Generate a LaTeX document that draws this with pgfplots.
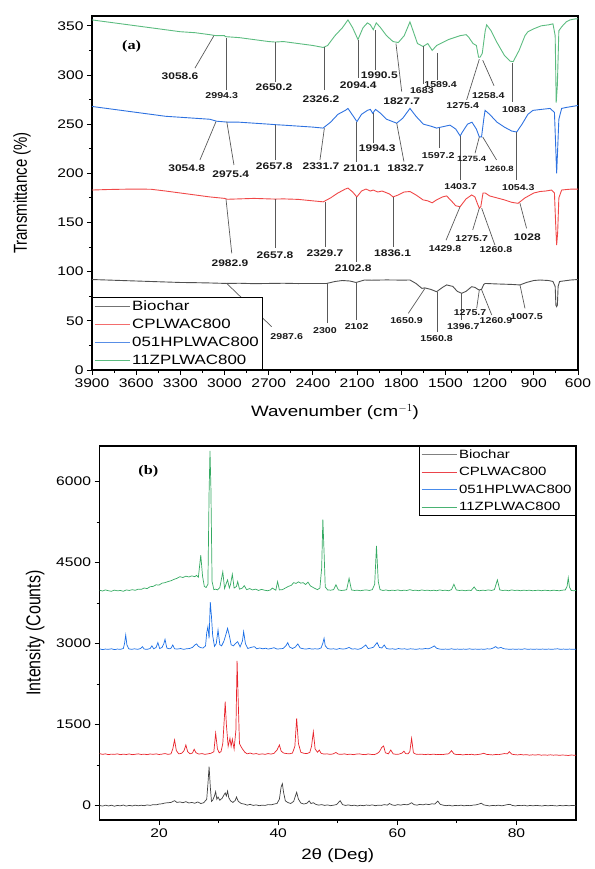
\documentclass[border=0pt]{standalone}
\usepackage{pgfplots}
\pgfplotsset{compat=1.18}
\usepackage{pgfplotstable}
\usepackage{fontspec}
\setmainfont{Liberation Sans}[FakeStretch=1.25]
\newfontfamily\plainsans{Liberation Sans}
\newfontfamily\tnr{Liberation Serif}[FakeStretch=1.25]

\definecolor{fgray}{HTML}{505050}
\definecolor{fred}{HTML}{F04848}
\definecolor{fblue}{HTML}{2E72E0}
\definecolor{fgreen}{HTML}{5CBC80}
\definecolor{xgray}{HTML}{404040}
\definecolor{xred}{HTML}{E8232B}
\definecolor{xblue}{HTML}{1A6EE6}
\definecolor{xgreen}{HTML}{35AA62}

% ---- FTIR (a) ----
\pgfplotstableread{
x y
3900 92
3800 91.5
3700 91
3600 90.5
3500 90
3400 89.5
3300 89
3200 88.8
3100 88.5
2985 88
2900 88.2
2800 87.8
2700 88
2600 88.2
2500 87.9
2400 88
2307 88
2250 90
2200 91
2150 90.5
2107 89
2050 91.5
2000 91.3
1900 91.6
1800 91.4
1741 91.5
1700 88
1660 83
1640 83.5
1600 82
1560 79.6
1520 84
1492 86.5
1450 85
1420 80
1390 78
1360 80
1322 84.7
1300 84
1280 82
1270 81.4
1255 82
1240 87
1230 88
1150 87.5
1050 87
994 86.5
950 89
900 91
858 91.5
800 91
770 90
755 85
750 66
745 64.4
740 66
735 85
725 90
700 90.5
650 91.5
600 92
}\ftirbio
\pgfplotstableread{
x y
3900 183
3800 183.5
3700 183.8
3600 184
3500 183.8
3400 182
3300 180
3200 178
3100 176
3000 174.5
2982 173.6
2900 174
2800 174.5
2700 174
2657 173.8
2600 174
2500 173.5
2400 172
2330 171
2280 175
2230 180
2180 184
2162 185
2130 181
2102 176
2070 182
2040 184
2010 182
1990 183
1960 181
1930 182
1880 179
1856 176
1820 178
1780 181
1741 181.5
1700 178
1652 173
1620 172
1590 170
1560 173
1520 176
1492 177
1460 172
1430 167
1401 166
1360 174
1322 178
1300 176
1280 168
1270 164.6
1260 166
1245 180
1230 180
1200 177
1150 175
1100 173
1050 170.5
1007 169.5
960 175
900 180
858 181.5
820 182
779 183
760 180
752 150
745 127
738 140
730 175
711 183
680 183.5
640 184
600 184
}\ftircp
\pgfplotstableread{
x y
3900 268
3800 266
3700 264
3600 262
3500 260
3400 258
3300 257
3200 256
3100 255
3054 253
2975 252
2900 252
2800 251
2700 250
2657 249.5
2600 249
2500 248
2400 247
2331 246
2280 252
2230 260
2180 264
2162 266
2130 259
2101 252.6
2070 260
2030 264
2010 265
1994 261
1975 265
1940 261
1900 255
1831 251
1790 256
1741 266
1700 258
1650 250
1600 248
1560 246
1500 248
1469 249
1430 245
1400 238
1385 242
1350 250
1320 252
1290 245
1270 237
1255 237
1240 255
1231 264
1200 260
1150 252
1100 247
1050 243
1016 242
980 250
940 260
906 264
850 265
790 266
760 262
752 230
745 200
738 225
730 255
711 266
680 267
640 268
600 269
}\ftirhp
\pgfplotstableread{
x y
3900 356
3800 354
3700 352
3600 350
3500 348
3400 346
3300 344
3200 343
3100 341
3058 340
3000 340
2994 339
2900 338
2800 336
2700 334
2657 333.5
2600 334
2500 332
2400 330
2330 328
2300 330
2250 340
2200 348
2162 356
2130 348
2094 336
2060 348
2030 353
2010 351
1990 346
1970 353
1940 348
1900 340
1856 334
1820 333
1780 340
1741 354
1720 345
1690 332
1652 329
1620 332
1590 325
1560 330
1520 333
1480 336
1440 338
1400 340
1360 341
1340 338
1313 332
1290 330
1275 318
1265 318
1250 322
1230 345
1220 351
1190 345
1150 333
1100 320
1060 314
1040 313.6
1000 325
960 340
940 344
900 347
850 350
800 351
770 352
755 340
748 272
740 290
730 345
711 349
680 354
655 356
620 357
600 357
}\ftirzp

% ---- XRD (b) ----
\pgfplotstableread{
x y
10 5
10.5 -8
11 10
11.5 -5
12 8
12.5 -10
13 5
13.5 -3
14 12
14.5 -8
15 6
15.5 -5
16 10
16.5 -2
17 8
17.5 0
18 15
18.5 5
19 20
19.5 15
20 30
20.5 35
21 50
21.5 55
22 60
22.6 93
23 60
23.5 70
24 55
24.5 75
25 50
25.5 60
26 45
26.5 70
27 40
27.5 55
28.0 120
28.2 400
28.4 722
28.6 350
28.8 80
29.0 100
29.3 180
29.5 259
29.7 120
29.9 160
30.2 100
30.6 140
30.9 200
31.1 235
31.3 180
31.5 272
31.7 150
32.0 90
32.4 60
32.8 100
33.0 161
33.3 80
33.8 40
34.3 30
34.8 10
35.3 25
35.8 5
36.3 15
36.8 0
37.3 10
37.8 5
38.3 20
38.8 15
39.3 30
39.8 40
40.2 120
40.5 350
40.7 407
40.9 250
41.2 90
41.6 60
42.1 40
42.6 80
43.1 248
43.4 120
43.8 50
44.3 30
44.8 45
45.2 90
45.5 40
45.9 55
46.3 25
46.8 10
47.3 20
47.8 5
48.3 15
48.8 0
49.3 10
49.8 20
50.4 93
50.8 20
51.3 5
51.8 15
52.3 0
52.8 10
53.3 -5
53.8 8
54.3 0
54.8 12
55.3 5
55.8 15
56.3 0
56.8 10
57.3 5
57.8 20
58.3 10
58.7 40
59.1 15
59.6 5
60.1 20
60.6 10
61.1 25
61.6 15
62.0 30
62.4 55
62.8 20
63.3 10
63.8 25
64.3 15
64.8 30
65.3 20
65.8 35
66.3 30
66.8 85
67.2 25
67.7 10
68.2 0
68.7 8
69.2 -5
69.7 5
70.2 0
70.7 10
71.2 -3
71.7 6
72.2 0
72.7 10
73.2 15
73.7 30
74.1 45
74.5 15
75.0 5
75.5 -5
76.0 5
76.5 0
77.0 10
77.5 -3
78.0 8
78.5 20
78.9 25
79.3 5
79.8 -5
80.3 5
80.8 0
81.3 8
81.8 -5
82.3 5
82.8 -3
83.3 6
83.8 0
84.3 -5
84.8 5
85.3 -3
85.8 6
86.3 0
86.8 -5
87.3 5
87.8 -3
88.3 5
88.8 -2
89.3 4
90 0
}\xrdbio
\pgfplotstableread{
x y
10 965
10.5 950
11 960
11.5 945
12 955
12.5 950
13 960
13.5 945
14 955
14.5 948
15 958
15.5 945
16 952
16.5 960
17 948
17.5 955
18 945
18.5 958
19 950
19.5 960
20 948
20.5 955
21 965
21.5 950
22.0 960
22.3 1050
22.6 1217
22.9 1020
23.3 960
23.8 970
24.2 1020
24.5 1124
24.8 1000
25.2 960
25.6 975
25.9 1045
26.2 980
26.7 955
27.2 965
27.7 950
28.2 960
28.7 970
29.2 1000
29.5 1341
29.8 1050
30.1 980
30.4 1000
30.7 1150
31.0 1700
31.1 1926
31.3 1500
31.6 1100
31.9 1248
32.1 1100
32.3 1230
32.6 1050
32.9 1400
33.1 2680
33.3 1900
33.5 1150
33.7 1105
34.0 1050
34.4 990
34.8 960
35.3 975
35.8 955
36.3 965
36.8 950
37.3 960
37.8 950
38.3 965
38.8 955
39.3 970
39.8 1030
40.2 1124
40.5 1010
40.9 975
41.4 965
41.9 960
42.4 975
42.8 1100
43.1 1618
43.4 1150
43.8 990
44.3 970
44.8 965
45.3 985
45.6 1100
45.9 1370
46.2 1050
46.6 990
46.9 1030
47.2 970
47.7 955
48.2 960
48.7 950
49.2 958
49.7 985
50.1 955
50.6 950
51.1 960
51.6 948
52.1 955
52.6 945
53.1 955
53.6 960
54.1 950
54.6 945
55.1 958
55.6 950
56.1 945
56.6 965
57.0 1000
57.4 1080
57.7 1105
58.0 980
58.5 960
58.9 1031
59.3 960
59.8 950
60.3 955
60.8 975
61.1 1010
61.4 965
61.8 960
62.1 1000
62.4 1248
62.7 980
63.1 955
63.6 950
64.1 955
64.6 945
65.1 952
65.6 948
66.1 955
66.6 945
67.1 950
67.6 945
68.1 955
68.6 960
69.1 1018
69.5 960
70.0 945
70.5 950
71.0 940
71.5 948
72.0 945
72.5 952
73.0 940
73.5 948
74.0 955
74.5 970
75.0 950
75.5 945
76.0 940
76.5 948
77.0 945
77.5 955
78.0 965
78.5 960
78.8 1000
79.2 955
79.7 945
80.2 940
80.7 948
81.2 940
81.7 945
82.2 935
82.7 942
83.2 938
83.7 945
84.2 935
84.7 940
85.2 935
85.7 942
86.2 935
86.7 940
87.2 932
87.7 938
88.2 935
88.7 930
89.2 938
90 932
}\xrdcp
\pgfplotstableread{
x y
10 2905
10.5 2890
11 2900
11.5 2895
12 2905
12.5 2890
13 2900
13.5 2895
14.0 2910
14.2 3000
14.4 3160
14.6 2980
14.9 2905
15.4 2895
15.9 2905
16.4 2895
16.9 2910
17.2 2945
17.5 2900
18.0 2895
18.5 2910
18.8 2960
19.1 2905
19.5 2930
19.8 3020
20.1 2910
20.5 2930
20.8 3000
21.0 3080
21.3 2920
21.7 2905
22.0 2915
22.3 2975
22.6 2905
23.1 2900
23.6 2910
24.1 2895
24.6 2905
25.1 2910
25.6 2930
26.0 2975
26.3 2995
26.6 2950
27.0 2925
27.4 2920
27.8 2960
28.0 3200
28.2 3315
28.4 3100
28.6 3770
28.8 3500
29.0 3150
29.3 2950
29.6 3000
29.9 3254
30.2 2980
30.5 2960
30.9 3050
31.3 3200
31.5 3285
31.8 3150
32.1 2980
32.5 2960
32.8 3000
33.2 3037
33.6 2940
34.0 3050
34.2 3223
34.5 3000
34.9 2910
35.4 2930
36.0 2945
36.4 2905
36.9 2920
37.4 2905
37.9 2915
38.3 2900
38.8 2910
39.3 2925
39.8 2900
40.3 2905
40.8 2910
41.3 2960
41.6 3019
41.9 2940
42.4 2910
42.9 2940
43.3 2995
43.7 2920
44.2 2905
44.7 2900
45.2 2910
45.7 2900
46.2 2905
46.7 2900
47.2 2920
47.5 3010
47.7 3100
47.9 2960
48.3 2910
48.8 2900
49.3 2905
49.8 2895
50.3 2910
50.8 2900
51.3 2905
51.9 2930
52.4 2900
52.9 2905
53.4 2895
53.9 2910
54.3 2940
54.7 2976
55.1 2910
55.6 2920
56.0 2935
56.6 3019
57.0 2930
57.4 2920
57.8 2975
58.2 2910
58.7 2900
59.2 2905
59.7 2895
60.2 2910
60.7 2900
61.2 2905
61.7 2895
62.2 2905
62.7 2900
63.2 2895
63.7 2905
64.2 2900
64.7 2910
65.2 2905
65.7 2925
66.2 2958
66.6 2915
67.1 2900
67.6 2895
68.1 2900
68.6 2895
69.1 2905
69.6 2895
70.1 2900
70.6 2895
71.1 2900
71.6 2895
72.1 2905
72.6 2895
73.1 2900
73.6 2895
74.1 2900
74.6 2895
75.1 2905
75.6 2900
76.1 2920
76.5 2945
76.9 2915
77.4 2930
77.9 2905
78.4 2900
78.9 2895
79.4 2900
79.9 2895
80.4 2900
80.9 2895
81.4 2905
81.9 2895
82.4 2900
82.9 2895
83.4 2900
83.9 2895
84.4 2900
84.9 2895
85.4 2900
85.9 2895
86.4 2900
86.9 2905
87.4 2895
87.9 2900
88.4 2895
88.9 2900
89.4 2895
90 2895
}\xrdhp
\pgfplotstableread{
x y
10 3990
10.5 3975
11 3995
11.5 3980
12 3970
12.5 3992
13 3978
13.5 3985
14 3970
14.5 3995
15 3985
15.5 4000
16 3988
16.5 4010
17 4005
17.5 4030
18 4020
18.5 4055
19 4060
19.5 4090
20 4085
20.5 4120
21 4130
21.5 4150
22 4165
22.5 4190
23 4210
23.5 4240
24 4225
24.5 4250
25 4235
25.5 4255
26 4240
26.3 4265
26.6 4230
27.0 4640
27.3 4250
27.6 4060
27.9 4040
28.2 4100
28.4 5800
28.55 6570
28.7 5900
28.9 4150
29.2 4000
29.5 4010
29.8 3995
30.2 4040
30.7 4330
31.0 4020
31.3 4120
31.5 4180
31.8 4030
32.0 4100
32.3 4285
32.6 4030
33.0 4060
33.2 4150
33.5 4010
34.0 4030
34.3 4075
34.7 4000
35.2 4020
35.7 3995
36.2 4010
36.7 3985
37.2 4005
37.7 3990
38.2 3980
38.7 3995
39.0 4030
39.3 4010
39.6 3990
39.9 4150
40.2 3995
40.7 4000
41.2 4030
41.7 4060
42.2 4080
42.6 4130
43.0 4115
43.4 4145
43.8 4120
44.2 4130
44.6 4095
45.0 4140
45.4 4070
45.8 4045
46.2 4020
46.6 4000
47.0 4030
47.3 4400
47.5 5300
47.7 4700
47.9 4050
48.3 3995
48.8 3990
49.3 4000
49.7 4090
50.1 3995
50.6 3985
51.1 3990
51.5 4000
51.9 4210
52.3 3995
52.8 3985
53.3 3990
53.8 3980
54.3 3990
54.8 3995
55.3 3985
55.8 4000
56.2 4100
56.5 4810
56.8 4150
57.1 4000
57.6 3985
58.1 3995
58.6 3980
59.1 3990
59.6 3985
60.1 3995
60.6 3980
61.1 3990
61.6 3985
62.1 4000
62.6 3985
63.1 3990
63.6 3980
64.1 3995
64.6 3985
65.1 3990
65.6 3980
66.1 3990
66.6 3980
67.1 3995
67.6 3985
68.1 3990
68.6 3980
69.1 4000
69.5 4100
69.9 3995
70.4 3985
70.9 3990
71.4 3980
71.9 3990
72.4 3985
72.9 4050
73.3 3990
73.8 3980
74.3 3990
74.8 3985
75.3 3995
75.8 3985
76.3 4000
76.8 4180
77.2 3995
77.7 3985
78.2 3990
78.7 3980
79.2 3995
79.7 3985
80.2 3990
80.7 3980
81.2 3990
81.7 3985
82.2 3990
82.7 3980
83.2 3985
83.7 3990
84.2 3980
84.7 3990
85.2 3985
85.7 3980
86.2 3990
86.7 3985
87.2 3980
87.7 3990
88.2 3995
88.5 4060
88.7 4220
88.9 4050
89.2 3985
89.6 3980
90 3985
}\xrdzp

\pgfplotsset{
  panel/.style={
    scale only axis, tick pos=left, tick align=outside,
    major tick length=5pt, minor tick length=3pt,
    axis line style={line width=1.1pt},
    tick style={black, line width=0.9pt},
    tick label style={font=\fontsize{12.5}{14}\selectfont},
    /pgf/number format/assume math mode=true,
    /pgf/number format/1000 sep={},
    legend cell align=left,
  },
  % legend samples with their colour written into the drawing itself
  limg/.style 2 args={legend image code/.code={\draw[draw=#1, line width=#2] (0pt,0pt) -- (35pt,0pt);}},
}
\tikzset{
  ld/.style={draw=black!65, line width=0.7pt},
  labL/.style={font=\bfseries\fontsize{9.6}{10}\selectfont, inner sep=0pt, text=black!90},
  labS/.style={font=\bfseries\fontsize{8.5}{9}\selectfont, inner sep=0pt, text=black!90},
  labXS/.style={font=\bfseries\fontsize{7.6}{8}\selectfont, inner sep=0pt, text=black!90},
}

\begin{document}
\begin{tikzpicture}
\useasboundingbox (0pt,0pt) rectangle (594pt,869pt);

\begin{axis}[panel,
  at={(335pt,676pt)}, anchor=center,
  width=486pt, height=354pt,
  x dir=reverse, xmin=600, xmax=3900, ymin=0, ymax=360,
  xtick={600,900,...,3900}, ytick={0,50,...,350},
  minor x tick num=1, minor y tick num=1,
  xlabel={Wavenumber (cm$^{-1}$)},
  xlabel style={at={(axis description cs:0.5,-0.118)}, anchor=center,
    font=\fontsize{15}{16}\selectfont},
  ylabel={\scalebox{1}[1.25]{Transmittance (\%)}},
  ylabel style={at={(axis description cs:-0.144,0.5)}, anchor=center,
    font=\plainsans\fontsize{15}{16}\selectfont},
  legend style={at={(axis description cs:0,0)}, anchor=south west, draw=black, line width=0.8pt,
    fill=white, font=\fontsize{13.5}{15}\selectfont, inner xsep=2pt, inner ysep=1.5pt,
    row sep=3pt},
]
\addplot[draw=fgray, line width=0.9pt, limg={fgray!80}{0.8pt}] table {\ftirbio};
\addlegendentry{Biochar}
\addplot[draw=fred, line width=0.9pt, limg={fred!80}{0.8pt}] table {\ftircp};
\addlegendentry{CPLWAC800}
\addplot[draw=fblue, line width=0.9pt, limg={fblue!80}{0.8pt}] table {\ftirhp};
\addlegendentry{051HPLWAC800}
\addplot[draw=fgreen, line width=0.9pt, limg={fgreen}{0.8pt}] table {\ftirzp};
\addlegendentry{11ZPLWAC800}

\node[font=\tnr\bfseries\fontsize{13}{14}\selectfont] at (3631,329.6) {(a)};

% green
\draw[ld] (3072,340) -- (3201,307); \node[labL] at (3302,299) {3058.6};
\draw[ld] (2990,338) -- (2990,285); \node[labS] at (3019,279) {2994.3};
\draw[ld] (2657,333.5) -- (2657,293); \node[labL] at (2664,287.6) {2650.2};
\draw[ld] (2322,328) -- (2322,285); \node[labL] at (2345,275) {2326.2};
\draw[ld] (2094,336) -- (2094,297); \node[labL] at (2092,290) {2094.4};
\draw[ld] (1974,346) -- (1974,305); \node[labL] at (1949,300) {1990.5};
\draw[ld] (1836,332) -- (1797,283); \node[labL] at (1797,273) {1827.7};
\draw[ld] (1650,329) -- (1650,291); \node[labS] at (1660,283.8) {1683};
\draw[ld] (1553,322) -- (1553,295); \node[labS] at (1533,290) {1589.4};
\draw[ld] (1270,316) -- (1356,274.7); \node[labS] at (1383,268.6) {1275.4};
\draw[ld] (1247,315) -- (1170,289); \node[labS] at (1209,278.7) {1258.4};
\draw[ld] (1044,312) -- (1044,273); \node[labS] at (1035,265) {1083};
% blue
\draw[ld] (3058,252.6) -- (3167,213.6); \node[labL] at (3257,205) {3054.8};
\draw[ld] (2985,252.6) -- (2936,208.5); \node[labL] at (2958,199) {2975.4};
\draw[ld] (2657,249.5) -- (2657,213.6); \node[labL] at (2662,207) {2657.8};
\draw[ld] (2322,246) -- (2352,213.6); \node[labL] at (2345,207) {2331.7};
\draw[ld] (2107,252.6) -- (2107,212); \node[labL] at (2069,205) {2101.1};
\draw[ld] (1990,261) -- (1990,230.5); \node[labL] at (1963,225.5) {1994.3};
\draw[ld] (1831,251) -- (1782,212); \node[labL] at (1770,205) {1832.7};
\draw[ld] (1544,246) -- (1544,225.5); \node[labS] at (1549,217.7) {1597.2};
\draw[ld] (1397,238) -- (1397,193); \node[labS] at (1397,186.9) {1403.7};
\draw[ld] (1270,237) -- (1299,220.4); \node[labXS] at (1322,214.6) {1275.4};
\draw[ld] (1247,237) -- (1153,213.6); \node[labXS] at (1135,205) {1260.8};
\draw[ld] (1016,242) -- (1016,193); \node[labS] at (1005,185) {1054.3};
% red
\draw[ld] (2990,173.6) -- (2951,118.7); \node[labL] at (2963,108.5) {2982.9};
\draw[ld] (2657,173.8) -- (2657,124); \node[labL] at (2657,117) {2657.8};
\draw[ld] (2314,171) -- (2314,125.4); \node[labL] at (2318,118.7) {2329.7};
\draw[ld] (2107,176) -- (2107,110); \node[labL] at (2126,103.5) {2102.8};
\draw[ld] (1854,176) -- (1854,125.4); \node[labL] at (1859,118.7) {1836.1};
\draw[ld] (1401,166) -- (1496,132); \node[labS] at (1503,123.8) {1429.8};
\draw[ld] (1270,164.6) -- (1315,142.4); \node[labS] at (1322,134) {1275.7};
\draw[ld] (1254,164.6) -- (1164,127); \node[labS] at (1157,122) {1260.8};
\draw[ld] (994,169.5) -- (949,144); \node[labL] at (944,134.6) {1028};
% black
\draw[ld] (2985,88) -- (2680,44); \node[labS] at (2578,33.9) {2987.6};
\draw[ld] (2300,88) -- (2300,47.5); \node[labS] at (2318,39.7) {2300};
\draw[ld] (2107,89) -- (2107,50.9); \node[labS] at (2103,44) {2102};
\draw[ld] (1639,83) -- (1752,57.6); \node[labS] at (1764,49.8) {1650.9};
\draw[ld] (1553,79.6) -- (1553,39); \node[labS] at (1560,32) {1560.8};
\draw[ld] (1390,78) -- (1390,51); \node[labS] at (1379,44) {1396.7};
\draw[ld] (1270,81.4) -- (1288,62.7); \node[labS] at (1333,58.7) {1275.7};
\draw[ld] (1254,81.4) -- (1186,56); \node[labS] at (1157,49.8) {1260.9};
\draw[ld] (994,86.5) -- (960,62.7); \node[labS] at (949,54) {1007.5};
\end{axis}

\begin{axis}[panel,
  at={(337.75pt,236pt)}, anchor=center,
  width=476.5pt, height=374pt,
  xmin=10, xmax=90, ymin=-265, ymax=6660,
  xtick={20,40,60,80}, ytick={0,1500,...,6000},
  minor x tick num=1, minor y tick num=1,
  xlabel={2θ (Deg)},
  xlabel style={at={(axis description cs:0.5,-0.094)}, anchor=center,
    font=\fontsize{15}{16}\selectfont},
  ylabel={\scalebox{1}[1.25]{Intensity (Counts)}},
  ylabel style={at={(axis description cs:-0.135,0.5)}, anchor=center,
    font=\plainsans\fontsize{16}{17}\selectfont},
  legend style={at={(axis description cs:1,1)}, anchor=north east, draw=black, line width=0.8pt,
    fill=white, font=\fontsize{12}{14}\selectfont, inner xsep=2pt, inner ysep=1.5pt,
    row sep=3.5pt},
]
\addplot[draw=xgray, line width=0.7pt, limg={gray}{1pt}] table {\xrdbio};
\addlegendentry{Biochar}
\addplot[draw=xred, line width=0.7pt, limg={xred!85}{1pt}] table {\xrdcp};
\addlegendentry{CPLWAC800}
\addplot[draw=xblue, line width=0.7pt, limg={xblue!80}{1pt}] table {\xrdhp};
\addlegendentry{051HPLWAC800}
\addplot[draw=xgreen, line width=0.7pt, limg={xgreen!90}{1pt}] table {\xrdzp};
\addlegendentry{11ZPLWAC800}
\node[font=\tnr\bfseries\fontsize{13}{14}\selectfont] at (18.2,6186) {(b)};
\end{axis}
\end{tikzpicture}
\end{document}
